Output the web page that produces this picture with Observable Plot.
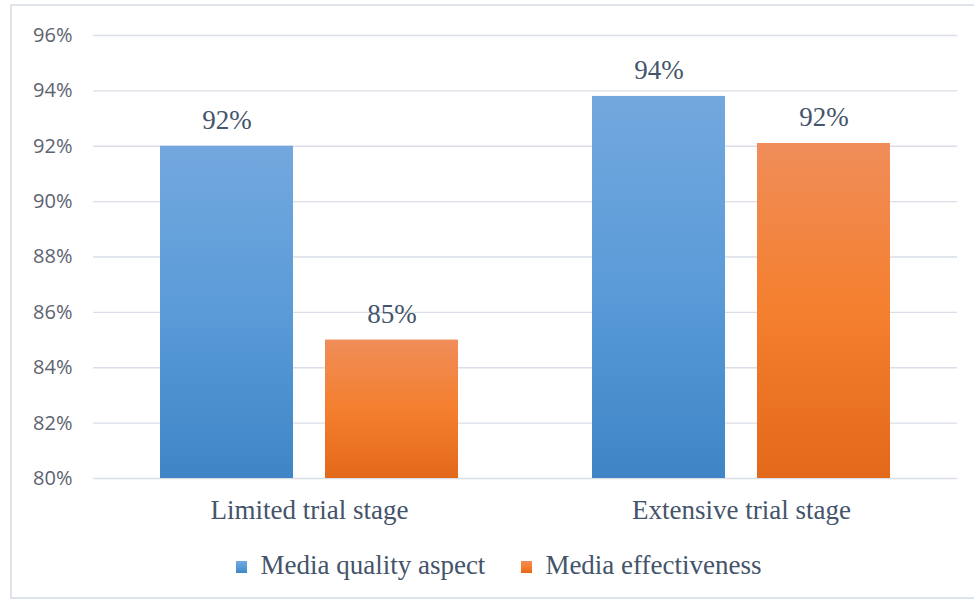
<!DOCTYPE html>
<html>
<head>
<meta charset="utf-8">
<script src="https://cdn.jsdelivr.net/npm/d3@7"></script>
<script src="https://cdn.jsdelivr.net/npm/@observablehq/plot@0.6"></script>
<style>
  html, body { margin: 0; padding: 0; background: #fff; overflow: hidden; }
  #wrap { position: relative; width: 974px; height: 605px; overflow: hidden; }
  #frame { position: absolute; left: 10px; top: 4px; width: 990px; height: 595px; border: 2px solid #dfe4eb; box-sizing: border-box; }
  #chart { position: absolute; left: 0; top: 0; }
  #legend { position: absolute; left: 0; top: 552px; width: 974px; display: flex; justify-content: center; gap: 36px;
            font-family: "Liberation Serif", "DejaVu Serif", serif; font-size: 27px; line-height: 27px; color: #44546a; padding-left: 24px; box-sizing: border-box; }
  .item { display: flex; align-items: center; }
  .sw { width: 11px; height: 12px; margin-right: 13px; margin-top: 2px; }
</style>
</head>
<body>
<div id="wrap">
  <div id="frame"></div>
  <div id="chart"></div>
  <div id="legend"></div>
</div>
<script>
const stages = ["Limited trial stage", "Extensive trial stage"];
const series = ["Media quality aspect", "Media effectiveness"];
const qualityValues = [92.0, 93.8];
const effectivenessValues = [85.0, 92.1];
const yTicks = [80, 82, 84, 86, 88, 90, 92, 94, 96];
const gradients = {
  "Media quality aspect": ["#73a8de", "#5a9bd8", "#3f85c6"],
  "Media effectiveness": ["#f08d59", "#f47f2e", "#e3691a"]
};
const gradIds = ["gBlue", "gOrange"];

const data = [];
stages.forEach((s, i) => {
  data.push({stage: s, series: series[0], value: qualityValues[i]});
  data.push({stage: s, series: series[1], value: effectivenessValues[i]});
});

const serif = "'Liberation Serif', 'DejaVu Serif', serif";
const textColor = "#44546a";

const plot = Plot.plot({
  width: 974,
  height: 540,
  marginLeft: 92,
  marginRight: 17,
  marginTop: 35,
  marginBottom: 62,
  fx: {domain: stages, paddingInner: 0, paddingOuter: 0, label: null},
  x: {domain: series, paddingInner: 0.193, paddingOuter: 0.399, axis: null},
  y: {domain: [80, 96], label: null},
  color: {domain: series, range: gradIds.map(id => `url(#${id})`)},
  marks: [
    Plot.gridY(yTicks, {stroke: "#d9dee7", strokeOpacity: 1, strokeWidth: 1.3}),
    Plot.axisY(yTicks, {tickSize: 0, tickPadding: 21, tickFormat: d => d + "%", fontSize: 20,
      fontFamily: "'Open Sans', sans-serif", fill: "#5d6370", label: null}),
    Plot.barY(data, {fx: "stage", x: "series", y1: 80, y2: "value", fill: "series"}),
    Plot.text(data, {fx: "stage", x: "series", y: "value", text: d => Math.round(d.value) + "%",
      lineAnchor: "bottom", dy: -17, fontSize: 27, fontFamily: serif, fill: textColor}),
    Plot.axisFx({anchor: "bottom", tickSize: 0, tickPadding: 21, fontSize: 27, fontFamily: serif, fill: textColor, label: null})
  ]
});

const ns = "http://www.w3.org/2000/svg";
const defs = document.createElementNS(ns, "defs");
series.forEach((s, i) => {
  const lg = document.createElementNS(ns, "linearGradient");
  lg.setAttribute("id", gradIds[i]);
  lg.setAttribute("x1", "0"); lg.setAttribute("y1", "0");
  lg.setAttribute("x2", "0"); lg.setAttribute("y2", "1");
  gradients[s].forEach((c, j, arr) => {
    const st = document.createElementNS(ns, "stop");
    st.setAttribute("offset", (j / (arr.length - 1)).toString());
    st.setAttribute("stop-color", c);
    lg.appendChild(st);
  });
  defs.appendChild(lg);
});
plot.insertBefore(defs, plot.firstChild);
document.getElementById("chart").appendChild(plot);

const legend = document.getElementById("legend");
series.forEach(s => {
  const item = document.createElement("div");
  item.className = "item";
  const sw = document.createElement("span");
  sw.className = "sw";
  const g = gradients[s];
  sw.style.background = `linear-gradient(${g[0]}, ${g[1]}, ${g[2]})`;
  const label = document.createElement("span");
  label.textContent = s;
  item.appendChild(sw);
  item.appendChild(label);
  legend.appendChild(item);
});
</script>
</body>
</html>
